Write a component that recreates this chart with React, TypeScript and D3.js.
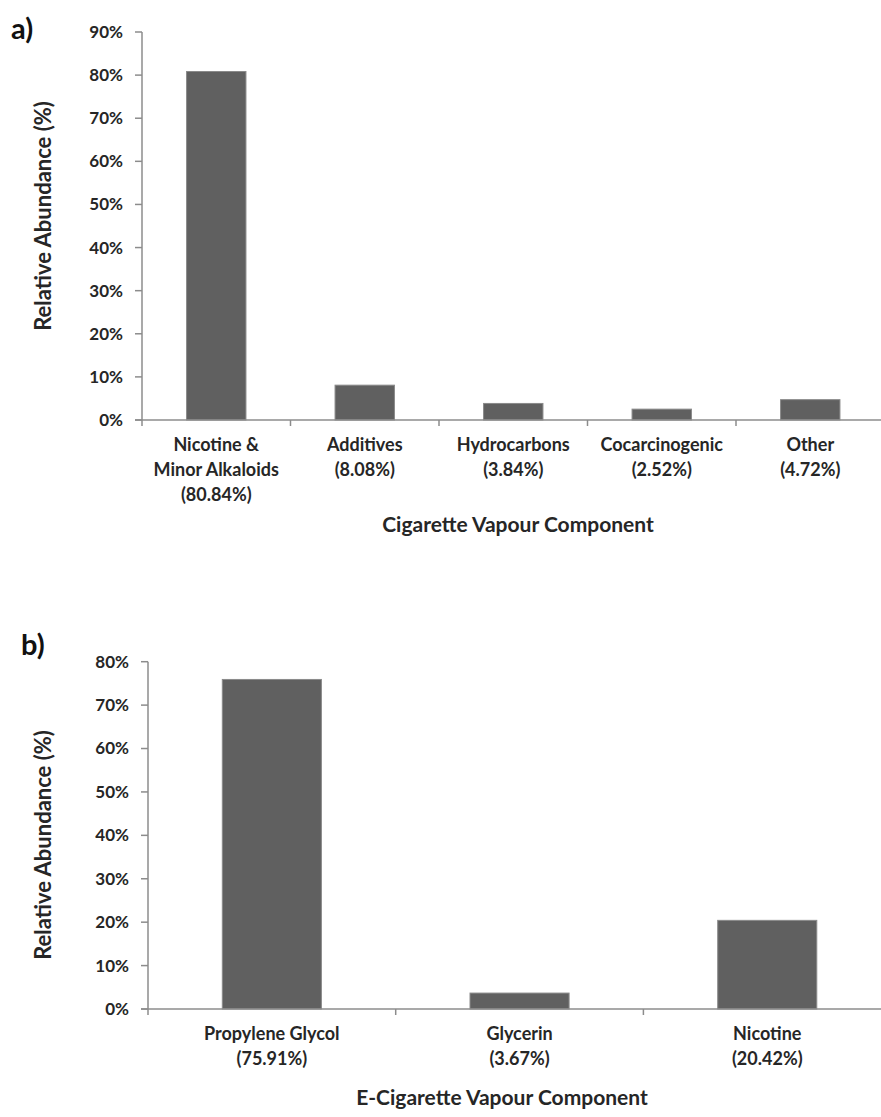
import React from 'react';
import * as d3 from 'd3';

// panel a) cigarette
const cigCategories = ['Nicotine &|Minor Alkaloids|(80.84%)', 'Additives|(8.08%)', 'Hydrocarbons|(3.84%)', 'Cocarcinogenic|(2.52%)', 'Other|(4.72%)'];
const cigValues = [80.84, 8.08, 3.84, 2.52, 4.72];
const cigTicks = [0, 10, 20, 30, 40, 50, 60, 70, 80, 90];

// panel b) e-cigarette
const ecigCategories = ['Propylene Glycol|(75.91%)', 'Glycerin|(3.67%)', 'Nicotine|(20.42%)'];
const ecigValues = [75.91, 3.67, 20.42];
const ecigTicks = [0, 10, 20, 30, 40, 50, 60, 70, 80];

const font = 'Lato, "Open Sans", sans-serif';
const axisColor = '#8c8c8c';
const textColor = '#262626';

type PanelProps = {
    tag: string, tagX: number, tagY: number,
    categories: string[], values: number[], ticks: number[],
    left: number, band: number, top: number, bottom: number,
    labelY: number, title: string, titleX: number, titleY: number, yTitleY: number
};

const Panel = (p: PanelProps) => {
    const x = d3.scaleBand()
        .domain(p.categories)
        .range([p.left, p.left + p.band * p.categories.length])
        .padding(0);
    const y = d3.scaleLinear()
        .domain([0, p.ticks[p.ticks.length - 1]])
        .range([p.bottom, p.top]);
    const bw = x.bandwidth() / 2.5;

    return (
        <g fontFamily={font} fontWeight="bold" fill={textColor}>
            <text x={p.tagX} y={p.tagY} fontSize={29} fill="#111">{p.tag}</text>

            {/* y axis */}
            <line x1={p.left} x2={p.left} y1={y(p.ticks[p.ticks.length - 1])} y2={p.bottom} stroke={axisColor} strokeWidth={1.5}/>
            {p.ticks.map(t => (
                <g key={t}>
                    <line x1={p.left - 7} x2={p.left} y1={y(t)} y2={y(t)} stroke={axisColor} strokeWidth={1.5}/>
                    <text x={p.left - 19} y={y(t)} dy="0.35em" textAnchor="end" fontSize={17}>{t + '%'}</text>
                </g>
            ))}
            <text transform={`translate(${51},${p.yTitleY}) rotate(-90)`} textAnchor="middle" fontSize={22}>Relative Abundance (%)</text>

            {/* bars */}
            {p.categories.map((c, i) => (
                <rect key={c} x={(x(c) as number) + (x.bandwidth() - bw) / 2} y={y(p.values[i])}
                    width={bw} height={p.bottom - y(p.values[i])}
                    fill="#606060" stroke="#8a8a8a" strokeWidth={1}/>
            ))}

            {/* x axis */}
            <line x1={p.left - 7} x2={p.left + p.band * p.categories.length} y1={p.bottom} y2={p.bottom} stroke={axisColor} strokeWidth={1.5}/>
            {p.categories.map(c => (
                <line key={c} x1={x(c) as number} x2={x(c) as number} y1={p.bottom} y2={p.bottom + 6} stroke={axisColor} strokeWidth={1.5}/>
            ))}
            {p.categories.map(c => (
                <text key={c} textAnchor="middle" fontSize={18}>
                    {c.split('|').map((line, j) => (
                        <tspan key={j} x={(x(c) as number) + x.bandwidth() / 2} y={p.labelY + j * 25}>{line}</tspan>
                    ))}
                </text>
            ))}
            <text x={p.titleX} y={p.titleY} textAnchor="middle" fontSize={21}>{p.title}</text>
        </g>
    );
};

const App = () => {
    return (
        <svg width={881} height={1117} style={{ position: 'absolute', left: 0, top: 0, background: '#fff' }}>
            <rect width={881} height={1117} fill="#fff"/>
            <Panel tag="a)" tagX={11} tagY={39}
                categories={cigCategories} values={cigValues} ticks={cigTicks}
                left={142} band={148.5} top={32} bottom={420}
                labelY={451} title="Cigarette Vapour Component" titleX={518} titleY={532} yTitleY={216}/>
            <Panel tag="b)" tagX={21} tagY={655}
                categories={ecigCategories} values={ecigValues} ticks={ecigTicks}
                left={148} band={247.7} top={661.7} bottom={1009}
                labelY={1040} title="E-Cigarette Vapour Component" titleX={502} titleY={1105} yTitleY={845}/>
        </svg>
    );
};

export default App;
